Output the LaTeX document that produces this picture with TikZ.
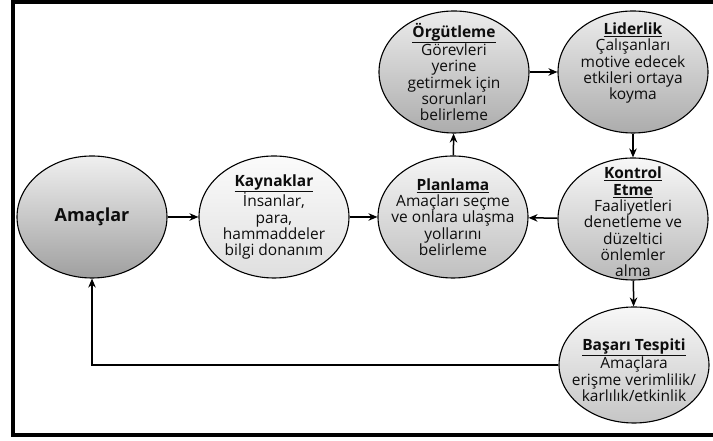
\documentclass[tikz,border=0pt]{standalone}
\usepackage{fontspec}
\setmainfont{Open Sans}
\usepackage{tikz}
\usetikzlibrary{shapes.geometric,arrows.meta}

\newcommand{\bhead}[1]{\underline{\textbf{#1}}}

\begin{document}
\begin{tikzpicture}[x=1pt,y=1pt,>={Stealth[length=9pt,width=7.5pt]},
  bubble/.style={ellipse,draw,line width=1.1pt,minimum width=150pt,minimum height=122pt,inner sep=0pt},
  txt/.style={align=center,inner sep=0pt,text=black!95,font=\fontsize{15.5}{16.3}\selectfont},
  flow/.style={->,line width=1.5pt}]
\useasboundingbox (0,0) rectangle (713,441);
% frame (open on the right)
\draw[line width=4pt] (713,438.5) -- (13,438.5) -- (13,5.5) -- (713,5.5);
% bubbles
\node[bubble,top color=gray!12,bottom color=gray!75] (amac) at (92,224) {};
\node[bubble,top color=gray!3,bottom color=gray!25] (kaynak) at (274,224) {};
\node[bubble,top color=gray!8,bottom color=gray!50] (plan) at (453,224) {};
\node[bubble,top color=gray!15,bottom color=gray!65] (orgut) at (454,369) {};
\node[bubble,top color=gray!15,bottom color=gray!65] (lider) at (633,369) {};
\node[bubble,top color=gray!6,bottom color=gray!55] (kontrol) at (633,222) {};
\node[bubble,minimum height=116pt,top color=gray!6,bottom color=gray!45] (basari) at (634,76) {};
% texts
\node[txt,font=\fontsize{18}{19}\selectfont\bfseries] at (amac) {Amaçlar};
\node[txt] at (kaynak) {\bhead{Kaynaklar}\\İnsanlar,\\para,\\hammaddeler\\bilgi donanım};
\node[txt] at (plan) {\bhead{Planlama}\\Amaçları seçme\\ve onlara ulaşma\\yollarını\\belirleme};
\node[txt] at (orgut) {\bhead{Örgütleme}\\Görevleri\\yerine\\getirmek için\\sorunları\\belirleme};
\node[txt] at ([yshift=9pt]lider.center) {\bhead{Liderlik}\\Çalışanları\\motive edecek\\etkileri ortaya\\koyma};
\node[txt] at ([yshift=-3pt]kontrol.center) {\bhead{Kontrol}\\\bhead{Etme}\\Faaliyetleri\\denetleme ve\\düzeltici\\önlemler\\alma};
\node[txt] at ([yshift=-5pt]basari.center) {\bhead{Başarı Tespiti}\\Amaçlara\\erişme verimlilik/\\karlılık/etkinlik};
% arrows
\draw[flow] (amac) -- (kaynak);
\draw[flow] (kaynak) -- (plan);
\draw[flow] (kontrol) -- (plan);
\draw[flow] (plan) -- (orgut);
\draw[flow] (orgut) -- (lider);
\draw[flow] (lider) -- (kontrol);
\draw[flow] (kontrol) -- (basari);
\draw[flow] (basari.west) -| (amac.south);
\end{tikzpicture}
\end{document}
